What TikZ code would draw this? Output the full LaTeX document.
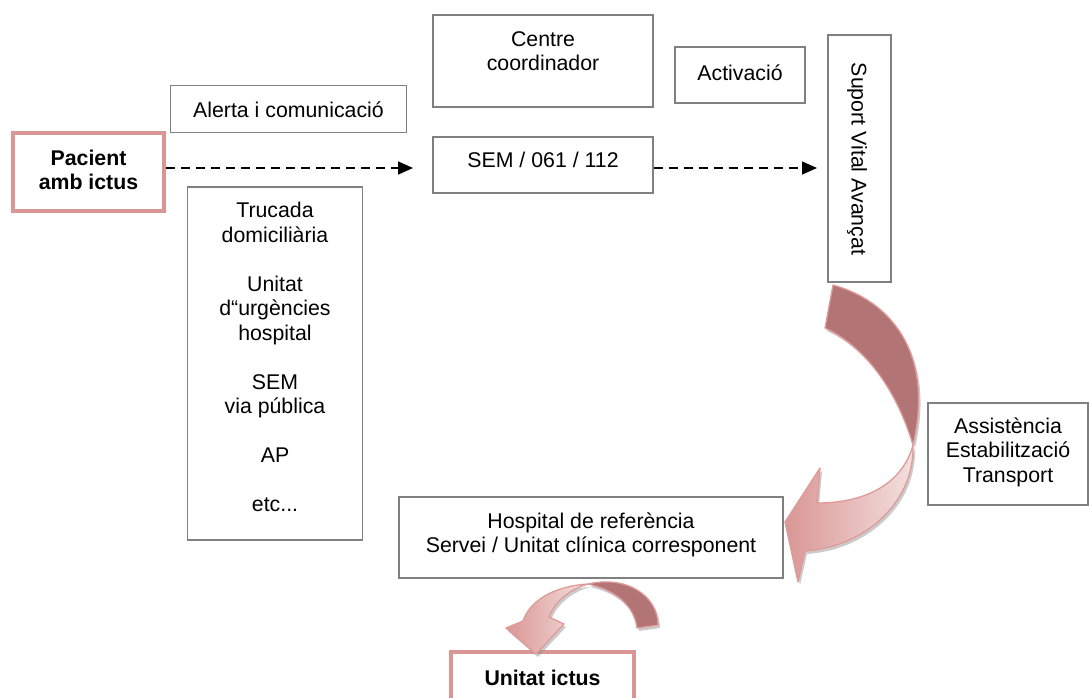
\documentclass[tikz,border=0pt]{standalone}
\usepackage{fontspec}
\setmainfont{Liberation Sans}
\usetikzlibrary{arrows.meta}
\definecolor{boxgray}{RGB}{128,128,128}
\definecolor{pinkb}{RGB}{217,150,148}
\definecolor{arrdark}{RGB}{178,116,116}
\definecolor{arrlight}{RGB}{244,224,223}
\definecolor{arredge}{RGB}{222,155,153}
\tikzset{
  box/.style={draw=boxgray, line width=1.4pt, rectangle, inner sep=0pt},
  pinkbox/.style={draw=pinkb, line width=4pt, rectangle, inner sep=0pt},
  txt/.style={inner sep=0pt, align=center, font=\fontsize{21.3}{24.5}\selectfont},
  btxt/.style={txt, font=\fontsize{21.3}{24.5}\selectfont\bfseries},
  flow/.style={draw=black, line width=1.6pt, dash pattern=on 9pt off 6pt, -{Triangle[length=15pt,width=13pt]}},
  ribbon/.style={draw=arredge, line width=1.3pt, line join=round},
  ribshadow/.style={fill=black!45, opacity=0.45}
}
\begin{document}
\begin{tikzpicture}[x=1pt,y=-1pt]
\useasboundingbox (0,0) rectangle (1089,697);
\clip (0,0) rectangle (1089,697);

% boxes
\node[box, minimum width=220pt, minimum height=92pt] (cc) at (543,61) {};
\node[txt] (cct) at (543,51) {Centre\\coordinador};
\node[box, minimum width=130pt, minimum height=56pt] (act) at (740,75) {};
\node[txt] (actt) at (740,73) {Activació};
\node[box, minimum width=63pt, minimum height=247pt] (sva) at (859.5,158.5) {};
\node[txt, rotate=-90] (svat) at (857,159) {Suport Vital Avançat};
\node[box, minimum width=236pt, minimum height=47pt] (alert) at (288.5,109) {};
\node[txt] (alertt) at (288.5,110) {Alerta i comunicació};
\node[pinkbox, minimum width=151pt, minimum height=78pt] (pac) at (88.5,172) {};
\node[btxt] (pact) at (88.5,170) {Pacient\\amb ictus};
\node[box, minimum width=220pt, minimum height=56pt] (sem) at (543,165) {};
\node[txt] (semt) at (543,160) {SEM / 061 / 112};
\node[box, minimum width=175pt, minimum height=353pt] (truc) at (275,363.5) {};
\node[txt] (truct) at (275,357) {Trucada\\domiciliària\\[24.5pt]Unitat\\d“urgències\\hospital\\[24.5pt]SEM\\via pública\\[24.5pt]AP\\[24.5pt]etc...};
\node[box, minimum width=160pt, minimum height=102pt] (assist) at (1008,454) {};
\node[txt] (assistt) at (1008,452) {Assistència\\Estabilització\\Transport};
\node[box, minimum width=384pt, minimum height=81pt] (hosp) at (591,537.5) {};
\node[txt] (hospt) at (591,535) {Hospital de referència\\Servei / Unitat clínica corresponent};
\node[pinkbox, minimum width=183pt, minimum height=80pt] (ui) at (542.5,692) {};
\node[btxt] (uit) at (542.5,678) {Unitat ictus};

% dashed connectors
\coordinate (semin) at (413,168);
\coordinate (svain) at (817,168);
\draw[flow] (pac.east |- semin) -- (semin);
\draw[flow] (sem.east |- svain) -- (svain);

% big curved ribbon arrow
\begin{scope}[shift={(2,3)}]
\fill[ribshadow] (833,285) .. controls (888,300) and (935,350) .. (913,445) .. controls (895,385) and (862,345) .. (825,328) -- cycle;
\fill[ribshadow] (913,445) .. controls (903,482) and (868,503) .. (817,503) -- (820,468) -- (785,522) -- (798,582) -- (805,551) .. controls (865,547) and (915,502) .. (913,445) -- cycle;
\end{scope}
\path[ribbon, fill=arrdark] (833,285) .. controls (888,300) and (935,350) .. (913,445) .. controls (895,385) and (862,345) .. (825,328) -- cycle;
\path[ribbon, left color=pinkb, right color=arrlight] (913,445) .. controls (903,482) and (868,503) .. (817,503) -- (820,468) -- (785,522) -- (798,582) -- (805,551) .. controls (865,547) and (915,502) .. (913,445) -- cycle;

% small curved ribbon arrow
\begin{scope}[shift={(2,3)}]
\fill[ribshadow] (588,584) .. controls (627,575) and (658,596) .. (658,625) -- (637,628) .. controls (634,605) and (615,590) .. (588,584) -- cycle;
\fill[ribshadow] (588,584) .. controls (555,586) and (530,600) .. (523,621) -- (506,628) -- (536,654) -- (564,624) -- (549,617) .. controls (555,602) and (568,590) .. (588,584) -- cycle;
\end{scope}
\path[ribbon, fill=arrdark] (588,584) .. controls (627,575) and (658,596) .. (658,625) -- (637,628) .. controls (634,605) and (615,590) .. (588,584) -- cycle;
\path[ribbon, left color=pinkb, right color=arrlight] (588,584) .. controls (555,586) and (530,600) .. (523,621) -- (506,628) -- (536,654) -- (564,624) -- (549,617) .. controls (555,602) and (568,590) .. (588,584) -- cycle;
\end{tikzpicture}
\end{document}
